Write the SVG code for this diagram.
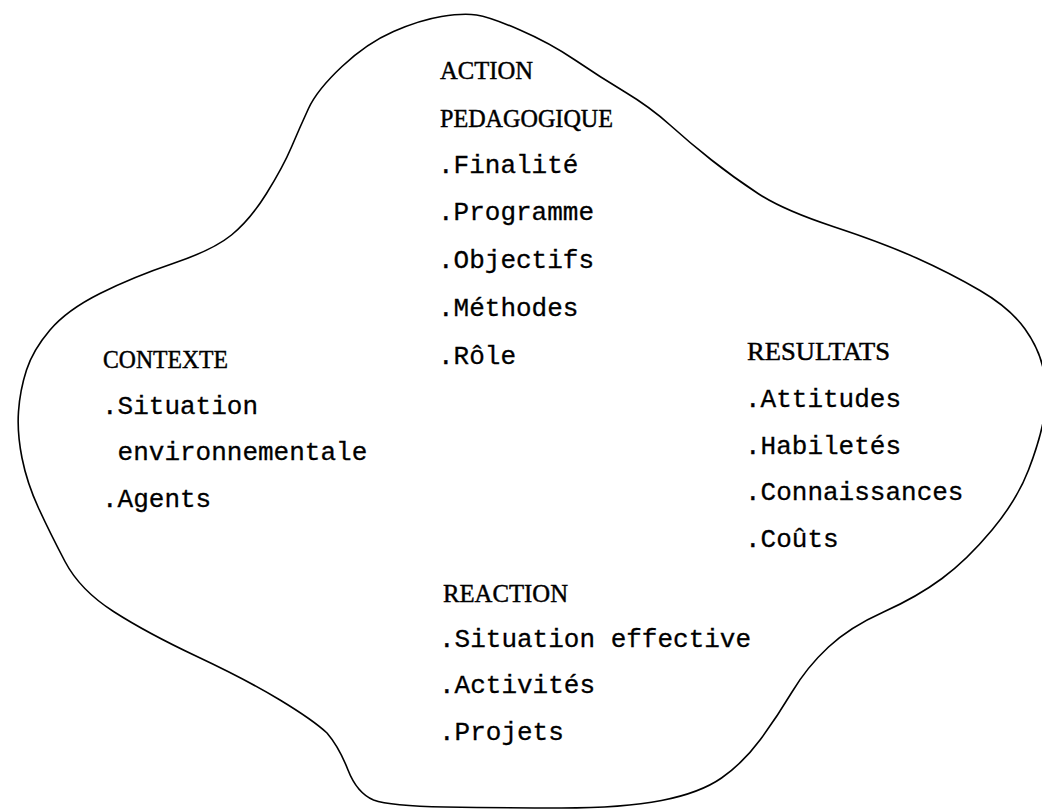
<svg xmlns="http://www.w3.org/2000/svg" width="1042" height="809" viewBox="0 0 1042 809">
<style>
.h{font-family:"Liberation Serif","Times New Roman",serif;font-size:24.5px;fill:#000;stroke:#000;stroke-width:0.45}
.i{font-family:"Liberation Mono","Courier New",monospace;font-size:26px;fill:#000;stroke:#000;stroke-width:0.3}
.outline{fill:none;stroke:#000;stroke-width:1.6;stroke-linejoin:round}
</style>
<rect width="1042" height="809" fill="#fff"/>
<g id="connectors">
<path class="outline" d="M441.5,16.5 Q463,13 476.5,15 Q490,17 520,30 Q550,43 575,60 Q600,77 625,92 Q650,107 670,125 Q690,143 711.5,160 Q733,177 758,193.5 Q783,210 833,226.5 Q883,243 916.5,258 Q950,273 980,290.5 Q1010,308 1025,329 Q1040,350 1044,372.5 Q1048,395 1044,417.5 Q1040,440 1028.5,470 Q1017,500 992,530 Q967,560 942,578.5 Q917,597 883.5,612 Q850,627 828.5,647 Q807,667 792,692 Q777,717 760,740 Q743,763 721.5,778 Q700,793 661.5,800.5 Q623,808 561.5,808 Q500,808 445,807 Q390,806 373.5,800 Q357,793 348,770 Q339,747 327,733 Q313,720 280,700 Q247,680 197,656.5 Q147,633 113.5,611.5 Q80,590 65,561.5 Q50,533 38.5,508 Q27,483 22,458 Q17,433 18.5,411.5 Q20,390 26.5,370 Q33,350 50,330 Q67,310 100,293.5 Q133,277 173,263.5 Q213,250 231.5,235 Q250,220 266.5,193.5 Q283,167 291.5,147 Q300,127 308.5,108.5 Q317,90 342,66.5 Q367,43 393.5,31.5 Q420,20 441.5,16.5 Z"/>
</g>
<g id="action">
<text class="h" x="440" y="79" textLength="93" lengthAdjust="spacingAndGlyphs">ACTION</text>
<text class="h" x="440" y="127" textLength="173" lengthAdjust="spacingAndGlyphs">PEDAGOGIQUE</text>
<text class="i" x="438" y="173">.Finalité</text>
<text class="i" x="438" y="220">.Programme</text>
<text class="i" x="438" y="268">.Objectifs</text>
<text class="i" x="438" y="316">.Méthodes</text>
<text class="i" x="438" y="364">.Rôle</text>
</g>
<g id="contexte">
<text class="h" x="103" y="368" textLength="125" lengthAdjust="spacingAndGlyphs">CONTEXTE</text>
<text class="i" x="102" y="414">.Situation</text>
<text class="i" x="117.6" y="460">environnementale</text>
<text class="i" x="102" y="507">.Agents</text>
</g>
<g id="resultats">
<text class="h" x="747" y="360" textLength="143" lengthAdjust="spacingAndGlyphs">RESULTATS</text>
<text class="i" x="745" y="407">.Attitudes</text>
<text class="i" x="745" y="454">.Habiletés</text>
<text class="i" x="745" y="500">.Connaissances</text>
<text class="i" x="745" y="547">.Coûts</text>
</g>
<g id="reaction">
<text class="h" x="443" y="602" textLength="125" lengthAdjust="spacingAndGlyphs">REACTION</text>
<text class="i" x="439" y="647">.Situation effective</text>
<text class="i" x="439" y="693">.Activités</text>
<text class="i" x="439" y="740">.Projets</text>
</g>
</svg>
